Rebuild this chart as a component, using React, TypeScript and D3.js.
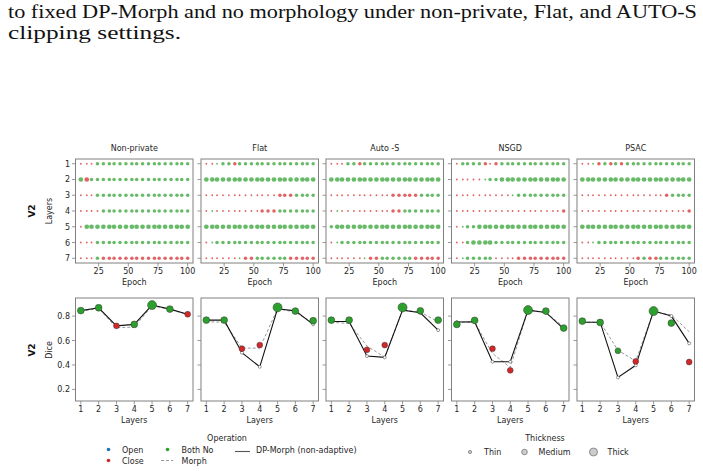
import React from 'react';
import * as d3 from 'd3';

// panel titles (one column each)
const panelTitles = ['Non-private', 'Flat', 'Auto -S', 'NSGD', 'PSAC'];
const layers = [1, 2, 3, 4, 5, 6, 7];
const epochs = [10, 15, 19, 24, 29, 34, 38, 43, 48, 53, 57, 62, 67, 72, 76, 81, 86, 91, 95, 100];
const epochTicks = [25, 50, 75, 100];
const diceTicks = [0.2, 0.4, 0.6, 0.8];

// operation + thickness per layer (rows) and epoch (cols)
// r = Close, g = Both No, b = Open ; t = Thin, m = Medium, k = Thick
const nonPrivateOps = [
  'rt rt rt gm gm gm gm gm gm gm gm gm gm gm gm gm gm gm gm gm',
  'gk rk gm gm gm gm gm gm gm gm gm gm gm gm gm gm gm gm gm gm',
  'rt rt rt gm gm gm gm gm gm gm gm gm gm gm gm gm gm gm gm gm',
  'rt rt rt rt gm gm gm gm gm gm gm gm gm gm gm gm gm gm gm gm',
  'rt gk gk gk gk gk gk gk gk gk gk gk gk gk gk gk gk gk gk gk',
  'rt rt rt gm gm gm gm gm gm gm gm gm gm gm gm gm gm gm gm gm',
  'rt rt rt gm rm rm rm rm rm rm rm rm rm rm rm rm rm rm rm rm',
];
const flatOps = [
  'rt rt gt gm gm rm gm gm gm gm gm gm gm gm gm gm gm gm gm gm',
  'gk gk gk gk gk gk gk gk gk gk gk gk gk gk gk gk gk gk gk gk',
  'rt rt rt rt rt rt rt rt rt rt rt rt rt rm rm rm gm gm gm gm',
  'rt gt rt rt rt rt rt rt rt rt rm rm rm gm gm gm gm gm gm gm',
  'gk gk gk gk gk gk gk gk gk gk gk gk gk gk gk gk gk gk gk gk',
  'rt gt gm gm gm gm gm gm gm gm gm gm gm gm gm gm gm gm gm gm',
  'rt rt rt rt rt rt gt rm rm gm gm gm gm gm gm rm rm rm rm rm',
];
const autoSOps = [
  'rt rt rt gm gm rm gm gm gm gm gm gm gm gm gm gm gm gm gm gm',
  'gk gk gk gk gk gk gk gk gk gk gk gk gk gk gk gk gk gk gk gk',
  'rt rt rt rt rt rt rt rt rt rt rt rm rm rm rm rm gm gm gm gm',
  'rt gt rt rt rt rt rt rt rt rt rt rm rm gm gm gm gm gm gm gm',
  'gm gk gk gk gk gk gk gk gk gk gk gk gk gk gk gk gk gk gk gk',
  'rt gt gm gm gm gm gm gm gm gm gm gm gm gm gm gm gm gm gm gm',
  'rt rt rt rt rt rt gt rm rm gm gm gm gm gm gm rm rm rm rm rm',
];
const nsgdOps = [
  'rt gm gm gm gm rm rt rm gm gm gm gm gm gm gm gm gm gm gm gm',
  'rt rt rt rt rt gt gm gm gk gk gk gk gk gk gk gk gk gk gk gk',
  'rt rt rt rt rt rt rt rt rt rt gt gm gm gm gm gm gm gm gm gm',
  'rt rt rt rt rt rt rt rt rt rt rt rt rt rt rt rt rt rt rt rm',
  'rt gt gm gm gk gk gk gk gk gk gk gk gk gk gk gk gk gk gk gk',
  'rt rt gm gk gk gk gk gm gm gm gm gm gm gm gm gm gm gm gm gm',
  'rt gt gm gm gm gm gm rt rt rt rt rm rm rm rm rm rm rm rm rm',
];
const psacOps = [
  'rt rt gt rm gm rm gm rm gm gm gm gm gm gm gm gm gm gm gm gm',
  'gk gk gk gk gk gk gk gk gk gk gk gk gk gk gk gk gk gk gk gk',
  'rt rt rt rt rt rt rt rt rt rt rt rt rt rt rt rm gm gm gm gm',
  'rt rt rt rt rt rt rt rt rt rt rt rt rt rt rt rt rt rt rt rm',
  'gk gk gk gk gk gk gk gk gk gk gk gk gk gk gk gk gk gk gk gk',
  'rt rt gt gm gm gm gm gm gm gm gm gm gm gm gm gm gm gm gm gm',
  'rt rt rt rt rt rt rt rt rt rt rm gm rm rm gm gm gm gm gm gm',
];
const epochOps = [nonPrivateOps, flatOps, autoSOps, nsgdOps, psacOps];

// Dice per layer: adaptive markers, Morph (dashed), DP-Morph non-adaptive (solid)
const nonPrivateDice = [0.845, 0.868, 0.72, 0.732, 0.89, 0.857, 0.815];
const nonPrivateMorph = [0.84, 0.862, 0.705, 0.71, 0.885, 0.855, 0.812];
const nonPrivateFixed = [0.845, 0.868, 0.72, 0.732, 0.89, 0.857, 0.815];
const nonPrivateMarks = ['gm', 'gm', 'rt', 'gm', 'gk', 'gm', 'rt'];

const flatDice = [0.767, 0.767, 0.533, 0.563, 0.871, 0.841, 0.762];
const flatMorph = [0.754, 0.75, 0.538, 0.538, 0.86, 0.833, 0.743];
const flatFixed = [0.767, 0.767, 0.5, 0.385, 0.86, 0.843, 0.732];
const flatMarks = ['gm', 'gm', 'rt', 'rt', 'gk', 'gm', 'gm'];

const autoSDice = [0.767, 0.767, 0.524, 0.563, 0.871, 0.843, 0.767];
const autoSMorph = [0.749, 0.74, 0.555, 0.464, 0.849, 0.833, 0.754];
const autoSFixed = [0.756, 0.756, 0.473, 0.462, 0.849, 0.827, 0.685];
const autoSMarks = ['gm', 'gm', 'rt', 'rt', 'gk', 'gm', 'gm'];

const nsgdDice = [0.732, 0.765, 0.533, 0.356, 0.849, 0.841, 0.702];
const nsgdMorph = [0.75, 0.75, 0.495, 0.38, 0.849, 0.828, 0.713];
const nsgdFixed = [0.751, 0.753, 0.426, 0.426, 0.849, 0.83, 0.696];
const nsgdMarks = ['gm', 'gm', 'rt', 'rt', 'gk', 'gm', 'gm'];

const psacDice = [0.759, 0.748, 0.516, 0.429, 0.841, 0.743, 0.424];
const psacMorph = [0.75, 0.75, 0.52, 0.432, 0.841, 0.808, 0.672];
const psacFixed = [0.75, 0.75, 0.298, 0.397, 0.841, 0.8, 0.577];
const psacMarks = ['gm', 'gm', 'gt', 'rt', 'gk', 'gm', 'rt'];

const diceSeries = [
  { dice: nonPrivateDice, morph: nonPrivateMorph, fixed: nonPrivateFixed, marks: nonPrivateMarks },
  { dice: flatDice, morph: flatMorph, fixed: flatFixed, marks: flatMarks },
  { dice: autoSDice, morph: autoSMorph, fixed: autoSFixed, marks: autoSMarks },
  { dice: nsgdDice, morph: nsgdMorph, fixed: nsgdFixed, marks: nsgdMarks },
  { dice: psacDice, morph: psacMorph, fixed: psacFixed, marks: psacMarks },
];

const operationLabels = ['Open', 'Close', 'Both No'];
const thicknessLabels = ['Thin', 'Medium', 'Thick'];

const opColor: Record<string, string> = { r: '#d62728', g: '#2ca02c', b: '#1f77b4' };
const topRadius: Record<string, number> = { t: 0.9, m: 1.75, k: 2.35 };
const botRadius: Record<string, number> = { t: 2.9, m: 3.4, k: 4.5 };

const FONT = 'DejaVu Sans, sans-serif';
const TXT = '#262626';
const SPINE = '#808080';

const panelLefts = [75.5, 201, 326, 451.5, 577];
const panelW = 117.5;
const topY0 = 159;
const topY1 = 263;
const botY0 = 298;
const botY1 = 401;

const App: React.FC = () => {
  const yRow = d3.scaleLinear().domain([0.7, 7.3]).range([topY0, topY1]);
  const yDice = d3.scaleLinear().domain([0.105, 0.948]).range([botY1, botY0]);

  return (
    <svg width={703} height={472} style={{ position: 'absolute', left: 0, top: 0, background: '#fff' }}
      fontFamily={FONT}>
      {/* caption text */}
      <text x={8} y={18} fontFamily="Liberation Serif, serif" fontSize={18} fill="#111"
        textLength={689} lengthAdjust="spacingAndGlyphs">
        to fixed DP-Morph and no morphology under non-private, Flat, and AUTO-S
      </text>
      <text x={8} y={39} fontFamily="Liberation Serif, serif" fontSize={18} fill="#111"
        textLength={173} lengthAdjust="spacingAndGlyphs">
        clipping settings.
      </text>

      {panelTitles.map((title, pi) => {
        const x0 = panelLefts[pi];
        const xEp = d3.scaleLinear().domain([5.5, 104.5]).range([x0, x0 + panelW]);
        const xLay = d3.scaleLinear().domain([0.7, 7.3]).range([x0, x0 + panelW]);
        const ops = epochOps[pi];
        const ser = diceSeries[pi];
        const morphLine = d3.line<number>().x((_, i) => xLay(layers[i])).y(d => yDice(d));
        return (
          <g key={title}>
            {/* ---------- top: operations over epochs ---------- */}
            <text x={x0 + panelW / 2} y={151} fontSize={8} fill={TXT} textAnchor="middle">{title}</text>
            {ops.map((row, ri) =>
              row.split(' ').map((code, ei) => (
                <circle key={`${ri}-${ei}`} cx={xEp(epochs[ei])} cy={yRow(layers[ri])}
                  r={topRadius[code[1]]} fill={opColor[code[0]]} fillOpacity={0.72} />
              ))
            )}
            <rect x={x0} y={topY0} width={panelW} height={topY1 - topY0} fill="none" stroke={SPINE} strokeWidth={1} />
            {layers.map(l => (
              <line key={l} x1={x0 - 3.5} x2={x0} y1={yRow(l)} y2={yRow(l)} stroke={SPINE} strokeWidth={0.8} />
            ))}
            {pi === 0 && layers.map(l => (
              <text key={l} x={x0 - 5.5} y={yRow(l) + 3} fontSize={8} fill={TXT} textAnchor="end">{l}</text>
            ))}
            {epochTicks.map(t => (
              <g key={t}>
                <line x1={xEp(t)} x2={xEp(t)} y1={topY1} y2={topY1 + 3.5} stroke={SPINE} strokeWidth={0.8} />
                <text x={xEp(t)} y={274} fontSize={8} fill={TXT} textAnchor="middle">{t}</text>
              </g>
            ))}
            <text x={x0 + panelW / 2} y={284.5} fontSize={8} fill={TXT} textAnchor="middle">Epoch</text>

            {/* ---------- bottom: dice per layer ---------- */}
            <path d={morphLine(ser.morph) || ''} fill="none" stroke="#999" strokeWidth={1} strokeDasharray="3,2" />
            <path d={morphLine(ser.fixed) || ''} fill="none" stroke="#111" strokeWidth={1.1} />
            {ser.fixed.map((v, i) => (
              <circle key={`f${i}`} cx={xLay(layers[i])} cy={yDice(v)} r={1.5} fill="#fff" stroke="#555" strokeWidth={0.6} />
            ))}
            {ser.dice.map((v, i) => (
              <circle key={`d${i}`} cx={xLay(layers[i])} cy={yDice(v)} r={botRadius[ser.marks[i][1]]}
                fill={opColor[ser.marks[i][0]]} stroke="#333" strokeWidth={0.5} />
            ))}
            <rect x={x0} y={botY0} width={panelW} height={botY1 - botY0} fill="none" stroke={SPINE} strokeWidth={1} />
            {diceTicks.map(t => (
              <g key={t}>
                <line x1={x0 - 3.5} x2={x0} y1={yDice(t)} y2={yDice(t)} stroke={SPINE} strokeWidth={0.8} />
                {pi === 0 && (
                  <text x={x0 - 5.5} y={yDice(t) + 3} fontSize={8} fill={TXT} textAnchor="end">{t.toFixed(1)}</text>
                )}
              </g>
            ))}
            {layers.map(l => (
              <g key={l}>
                <line x1={xLay(l)} x2={xLay(l)} y1={botY1} y2={botY1 + 3.5} stroke={SPINE} strokeWidth={0.8} />
                <text x={xLay(l)} y={412} fontSize={8} fill={TXT} textAnchor="middle">{l}</text>
              </g>
            ))}
            <text x={x0 + panelW / 2} y={423} fontSize={8} fill={TXT} textAnchor="middle">Layers</text>
          </g>
        );
      })}

      {/* row labels */}
      <text transform="translate(52,211) rotate(-90)" fontSize={8} fill={TXT} textAnchor="middle">Layers</text>
      <text transform="translate(35,211) rotate(-90)" fontSize={9} fontWeight="bold" fill="#111" textAnchor="middle">V2</text>
      <text transform="translate(52,350) rotate(-90)" fontSize={8} fill={TXT} textAnchor="middle">Dice</text>
      <text transform="translate(35,350) rotate(-90)" fontSize={9} fontWeight="bold" fill="#111" textAnchor="middle">V2</text>

      {/* legend: operation */}
      <text x={227} y={441} fontSize={8} fill={TXT} textAnchor="middle">Operation</text>
      <circle cx={108.5} cy={449.5} r={1.8} fill={opColor.b} />
      <text x={122} y={452.5} fontSize={8} fill={TXT}>{operationLabels[0]}</text>
      <circle cx={108.5} cy={460.5} r={1.8} fill={opColor.r} />
      <text x={122} y={463.5} fontSize={8} fill={TXT}>{operationLabels[1]}</text>
      <circle cx={167.5} cy={449.5} r={1.8} fill={opColor.g} />
      <text x={181.5} y={452.5} fontSize={8} fill={TXT}>{operationLabels[2]}</text>
      <line x1={161} x2={173} y1={460.5} y2={460.5} stroke="#999" strokeWidth={1} strokeDasharray="3,2" />
      <text x={181.5} y={463.5} fontSize={8} fill={TXT}>Morph</text>
      <line x1={235} x2={250} y1={451.5} y2={451.5} stroke="#555" strokeWidth={1.1} />
      <text x={256} y={452.5} fontSize={8} fill={TXT}>DP-Morph (non-adaptive)</text>

      {/* legend: thickness */}
      <text x={545} y={441} fontSize={8} fill={TXT} textAnchor="middle">Thickness</text>
      {thicknessLabels.map((lab, i) => {
        const cx = [470, 524.5, 593.5][i];
        const r = [1.6, 2.8, 4][i];
        return (
          <g key={lab}>
            <circle cx={cx} cy={452} r={r} fill="#ccc" stroke="#777" strokeWidth={0.8} />
            <text x={cx + 14} y={455} fontSize={8} fill={TXT}>{lab}</text>
          </g>
        );
      })}
    </svg>
  );
};

export default App;
